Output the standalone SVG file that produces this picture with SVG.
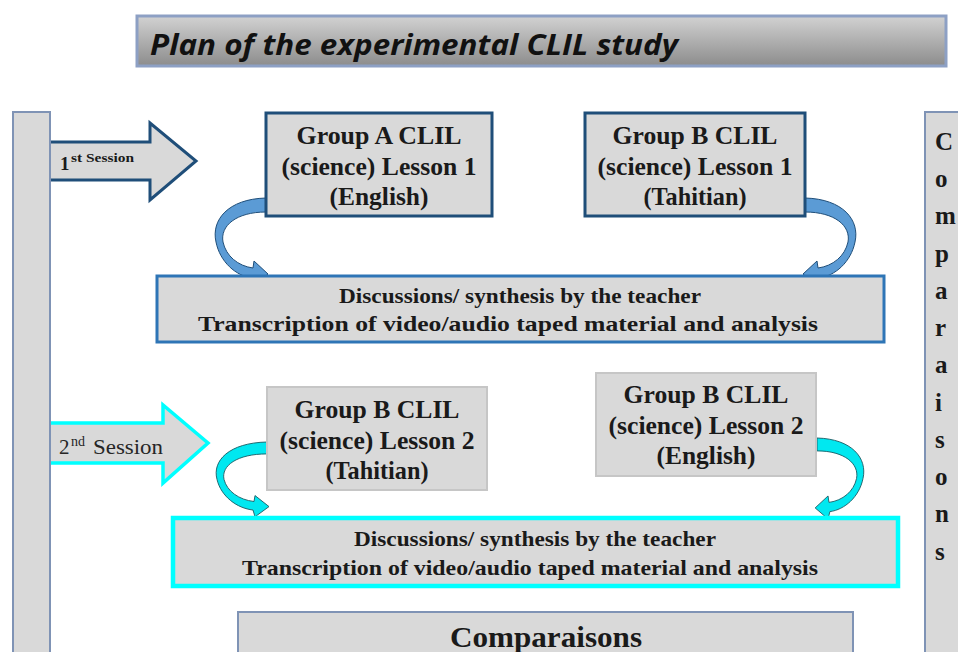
<svg xmlns="http://www.w3.org/2000/svg" width="958" height="652" viewBox="0 0 958 652">
<defs>
<linearGradient id="titleGrad" x1="0" y1="0" x2="0" y2="1">
<stop offset="0" stop-color="#d2d2d2"/>
<stop offset="1" stop-color="#8c8c8c"/>
</linearGradient>
<path id="curl" d="M 0,0 C -38,1 -55,22 -50,44 C -46,64 -30,78 -14,80 L -12,88 L 2,76 L -12,63 L -13,70 C -28,68 -40,58 -43,44 C -46,28 -30,14 0,14 Z"/>
</defs>
<style>
.box{fill:#d9d9d9}
.bar{fill:#d9d9d9;stroke:#7f93b5;stroke-width:2}
.nt{font-family:"Liberation Serif","Times New Roman",serif;font-weight:bold;font-size:25px;fill:#1a1a1a;text-anchor:middle}
.dt{font-family:"Liberation Serif","Times New Roman",serif;font-weight:bold;font-size:22px;fill:#1a1a1a;text-anchor:middle}
.vt{font-family:"Liberation Serif","Times New Roman",serif;font-weight:bold;font-size:25px;fill:#1a1a1a}
.blueCurl{fill:#5b9bd5;stroke:#1f4e79;stroke-width:1}
.cyanCurl{fill:#00e8f0;stroke:#1d5e66;stroke-width:1}
</style>
<rect width="958" height="652" fill="#ffffff"/>

<g id="title">
<rect x="137" y="16" width="809" height="50" fill="url(#titleGrad)" stroke="#8da0c4" stroke-width="3"/>
<text x="150" y="55" font-family="'Open Sans','Liberation Sans',sans-serif" font-weight="bold" font-style="italic" font-size="28" fill="#111" textLength="528" lengthAdjust="spacingAndGlyphs">Plan of the experimental CLIL study</text>
</g>

<g id="connectors">
<path d="M 51,142 L 150,142 L 150,123 L 196,161 L 150,200 L 150,180 L 51,180" fill="#d9d9d9" stroke="#1f4e79" stroke-width="3" stroke-linejoin="miter"/>
<path d="M 51,423 L 163,423 L 163,405 L 208,443 L 163,483 L 163,463 L 51,463" fill="#d9d9d9" stroke="#00ffff" stroke-width="3.5" stroke-linejoin="miter"/>
<use href="#curl" class="blueCurl" transform="translate(266,198)"/>
<use href="#curl" class="blueCurl" transform="translate(805,198) scale(-1,1)"/>
<use href="#curl" class="cyanCurl" transform="translate(267,442) scale(1,0.85)"/>
<use href="#curl" class="cyanCurl" transform="translate(817,438) scale(-0.92,0.92)"/>
</g>

<g id="session1-label">
<text font-family="'Liberation Serif',serif" font-weight="bold" fill="#1a1a1a"><tspan x="60" y="170" font-size="19">1</tspan><tspan x="71" y="162" font-size="13" textLength="63" lengthAdjust="spacingAndGlyphs">st Session</tspan></text>
</g>
<g id="session2-label">
<text font-family="'Liberation Serif',serif" fill="#262626"><tspan x="59" y="454" font-size="21">2</tspan><tspan x="71" y="446" font-size="14">nd</tspan><tspan x="93" y="454" font-size="21" textLength="70" lengthAdjust="spacingAndGlyphs">Session</tspan></text>
</g>

<g id="left-bar">
<rect class="bar" x="13" y="112" width="37" height="560"/>
</g>

<g id="comparisons-side">
<rect class="bar" x="925" y="112" width="45" height="560"/>
<text class="vt" x="935"><tspan x="935" y="150">C</tspan><tspan x="935" y="187">o</tspan><tspan x="935" y="224">m</tspan><tspan x="935" y="262">p</tspan><tspan x="935" y="299">a</tspan><tspan x="935" y="336">r</tspan><tspan x="935" y="373">a</tspan><tspan x="935" y="411">i</tspan><tspan x="935" y="448">s</tspan><tspan x="935" y="485">o</tspan><tspan x="935" y="522">n</tspan><tspan x="935" y="560">s</tspan></text>
</g>

<g id="groupA-lesson1">
<rect class="box" x="266" y="113" width="226" height="103" stroke="#1f4e79" stroke-width="3"/>
<text class="nt" x="379" y="144" textLength="165" lengthAdjust="spacingAndGlyphs">Group A CLIL</text>
<text class="nt" x="379" y="175" textLength="195" lengthAdjust="spacingAndGlyphs">(science) Lesson 1</text>
<text class="nt" x="379" y="205" textLength="99" lengthAdjust="spacingAndGlyphs">(English)</text>
</g>

<g id="groupB-lesson1">
<rect class="box" x="585" y="113" width="220" height="103" stroke="#1f4e79" stroke-width="3"/>
<text class="nt" x="695" y="144" textLength="165" lengthAdjust="spacingAndGlyphs">Group B CLIL</text>
<text class="nt" x="695" y="175" textLength="195" lengthAdjust="spacingAndGlyphs">(science) Lesson 1</text>
<text class="nt" x="695" y="205" textLength="103" lengthAdjust="spacingAndGlyphs">(Tahitian)</text>
</g>

<g id="discussion1">
<rect class="box" x="157" y="276" width="727" height="66" stroke="#2e75b6" stroke-width="3"/>
<text class="dt" x="520" y="303" textLength="362" lengthAdjust="spacingAndGlyphs">Discussions/ synthesis by the teacher</text>
<text class="dt" x="508" y="331" textLength="620" lengthAdjust="spacingAndGlyphs">Transcription of video/audio taped material and analysis</text>
</g>

<g id="groupB-lesson2-tahitian">
<rect class="box" x="267" y="387" width="220" height="103" stroke="#c6c6c6" stroke-width="2"/>
<text class="nt" x="377" y="418" textLength="165" lengthAdjust="spacingAndGlyphs">Group B CLIL</text>
<text class="nt" x="377" y="449" textLength="195" lengthAdjust="spacingAndGlyphs">(science) Lesson 2</text>
<text class="nt" x="377" y="479" textLength="103" lengthAdjust="spacingAndGlyphs">(Tahitian)</text>
</g>

<g id="groupB-lesson2-english">
<rect class="box" x="596" y="373" width="220" height="103" stroke="#c6c6c6" stroke-width="2"/>
<text class="nt" x="706" y="403" textLength="165" lengthAdjust="spacingAndGlyphs">Group B CLIL</text>
<text class="nt" x="706" y="434" textLength="195" lengthAdjust="spacingAndGlyphs">(science) Lesson 2</text>
<text class="nt" x="706" y="464" textLength="99" lengthAdjust="spacingAndGlyphs">(English)</text>
</g>

<g id="discussion2">
<rect class="box" x="173" y="518" width="725" height="68" stroke="#00ffff" stroke-width="4.5"/>
<text class="dt" x="535" y="546" textLength="362" lengthAdjust="spacingAndGlyphs">Discussions/ synthesis by the teacher</text>
<text class="dt" x="530" y="575" textLength="576" lengthAdjust="spacingAndGlyphs">Transcription of video/audio taped material and analysis</text>
</g>

<g id="comparisons-bottom">
<rect class="bar" x="238" y="612" width="615" height="60"/>
<text x="546" y="647" font-family="'Liberation Serif',serif" font-weight="bold" font-size="30" fill="#1a1a1a" text-anchor="middle" textLength="192" lengthAdjust="spacingAndGlyphs">Comparaisons</text>
</g>
</svg>
